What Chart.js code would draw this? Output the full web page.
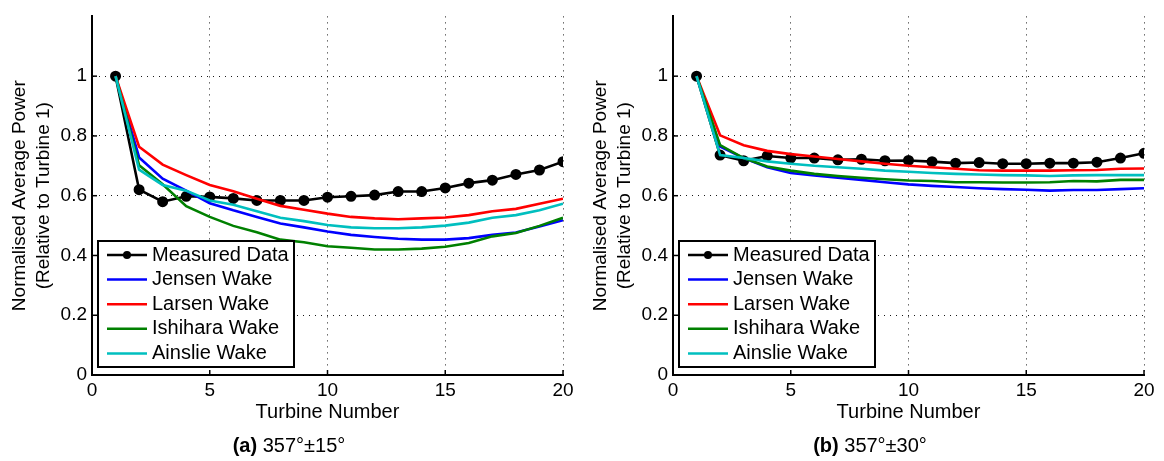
<!DOCTYPE html>
<html>
<head>
<meta charset="utf-8">
<script src="https://cdn.jsdelivr.net/npm/chart.js@4.4.1/dist/chart.umd.min.js"></script>
<style>
    body { margin: 0; width: 1164px; height: 461px; background: #fff; position: relative; overflow: hidden;
           font-family: "Liberation Sans", Arial, sans-serif; }
    .panel { position: absolute; top: 0; width: 582px; height: 461px; }
    .caption { position: absolute; top: 434px; font-size: 20px; color: #000; transform: translateX(-50%); white-space: nowrap; }
</style>
</head>
<body>
<div class="panel" style="left:0"><canvas id="chartA"></canvas></div>
<div class="panel" style="left:581px"><canvas id="chartB"></canvas></div>
<div class="caption" style="left:289px"><b>(a)</b> 357°±15°</div>
<div class="caption" style="left:870px"><b>(b)</b> 357°±30°</div>

<script>
const turbines = [1, 2, 3, 4, 5, 6, 7, 8, 9, 10, 11, 12, 13, 14, 15, 16, 17, 18, 19, 20];
const seriesNames = ['Measured Data', 'Jensen Wake', 'Larsen Wake', 'Ishihara Wake', 'Ainslie Wake'];
const yTickLabels = ['0', '0.2', '0.4', '0.6', '0.8', '1'];

// (a) 357° ±15°
const measuredA = [1.0, 0.620, 0.580, 0.598, 0.596, 0.591, 0.584, 0.584, 0.584, 0.595, 0.598, 0.602, 0.614, 0.614, 0.626, 0.642, 0.652, 0.671, 0.686, 0.714];
const jensenA   = [1.0, 0.728, 0.657, 0.617, 0.575, 0.551, 0.529, 0.507, 0.494, 0.480, 0.469, 0.462, 0.456, 0.453, 0.453, 0.458, 0.469, 0.477, 0.497, 0.518];
const larsenA   = [1.0, 0.764, 0.704, 0.669, 0.636, 0.615, 0.590, 0.566, 0.553, 0.540, 0.529, 0.524, 0.521, 0.524, 0.527, 0.535, 0.548, 0.556, 0.573, 0.590];
const ishiharaA = [1.0, 0.702, 0.638, 0.565, 0.529, 0.499, 0.478, 0.453, 0.444, 0.431, 0.426, 0.420, 0.420, 0.423, 0.429, 0.442, 0.464, 0.475, 0.499, 0.526];
const ainslieA  = [1.0, 0.687, 0.636, 0.617, 0.584, 0.570, 0.548, 0.526, 0.515, 0.502, 0.494, 0.491, 0.491, 0.494, 0.500, 0.510, 0.526, 0.535, 0.551, 0.573];

// (b) 357° ±30°
const measuredB = [1.0, 0.736, 0.717, 0.733, 0.726, 0.726, 0.720, 0.722, 0.717, 0.718, 0.714, 0.709, 0.711, 0.707, 0.707, 0.709, 0.709, 0.712, 0.726, 0.742];
const jensenB   = [1.0, 0.764, 0.726, 0.695, 0.676, 0.668, 0.660, 0.653, 0.645, 0.638, 0.633, 0.629, 0.625, 0.622, 0.620, 0.617, 0.619, 0.619, 0.622, 0.625];
const larsenB   = [1.0, 0.802, 0.769, 0.750, 0.739, 0.731, 0.723, 0.715, 0.707, 0.700, 0.695, 0.690, 0.685, 0.684, 0.684, 0.684, 0.685, 0.686, 0.690, 0.691];
const ishiharaB = [1.0, 0.769, 0.726, 0.698, 0.684, 0.673, 0.666, 0.660, 0.655, 0.651, 0.649, 0.645, 0.645, 0.644, 0.644, 0.645, 0.649, 0.648, 0.653, 0.653];
const ainslieB  = [1.0, 0.736, 0.726, 0.715, 0.707, 0.700, 0.695, 0.690, 0.684, 0.680, 0.676, 0.673, 0.671, 0.669, 0.668, 0.666, 0.668, 0.669, 0.669, 0.669];

const FONT = '"Liberation Sans", Arial, sans-serif';
Chart.defaults.font.family = FONT;
Chart.defaults.color = '#000';

const colors = ['#000000', '#0000ff', '#ff0000', '#008000', '#00bfbf'];

// inward tick marks + boxed legend inside the plot area
const matlabExtras = {
    id: 'matlabExtras',
    afterDraw(chart) {
        const ctx = chart.ctx;
        const xs = chart.scales.x, ys = chart.scales.y;
        ctx.save();
        ctx.strokeStyle = '#000';
        ctx.lineWidth = 1.5;
        xs.ticks.forEach(t => {
            if (t.value <= 0) return;
            const px = xs.getPixelForValue(t.value);
            ctx.beginPath(); ctx.moveTo(px, xs.top); ctx.lineTo(px, xs.top - 5); ctx.stroke();
        });
        ys.ticks.forEach(t => {
            if (t.value <= 0 || t.value > 1.1) return;
            const py = ys.getPixelForValue(t.value);
            ctx.beginPath(); ctx.moveTo(ys.right, py); ctx.lineTo(ys.right + 5, py); ctx.stroke();
        });

        const area = chart.chartArea;
        const bx = area.left + 6, by = area.bottom - 134, bw = 196, bh = 126;
        ctx.fillStyle = '#fff';
        ctx.fillRect(bx, by, bw, bh);
        ctx.lineWidth = 2;
        ctx.strokeStyle = '#000';
        ctx.strokeRect(bx, by, bw, bh);
        ctx.font = '20px ' + FONT;
        ctx.textBaseline = 'middle';
        ctx.textAlign = 'left';
        chart.data.datasets.forEach((ds, i) => {
            const cy = by + 14 + i * 24.6;
            ctx.strokeStyle = ds.borderColor;
            ctx.lineWidth = 2.5;
            ctx.beginPath(); ctx.moveTo(bx + 9, cy); ctx.lineTo(bx + 49, cy); ctx.stroke();
            if (ds.pointRadius > 0) {
                ctx.fillStyle = ds.borderColor;
                ctx.beginPath(); ctx.arc(bx + 29, cy, 4, 0, Math.PI * 2); ctx.fill();
            }
            ctx.fillStyle = '#000';
            ctx.fillText(ds.label, bx + 54, cy);
        });
        ctx.restore();
    }
};

function makeChart(id, seriesList) {
    const datasets = seriesList.map((vals, i) => ({
        label: seriesNames[i],
        data: turbines.map((t, j) => ({ x: t, y: vals[j] })),
        borderColor: colors[i],
        backgroundColor: colors[i],
        borderWidth: 2.6,
        pointRadius: i === 0 ? 4.2 : 0,
        pointHoverRadius: i === 0 ? 4.2 : 0,
        tension: 0,
        order: seriesList.length - i,
    }));

    const gridColor = ctx => (ctx.tick && (ctx.tick.value <= 0 || ctx.tick.value > 1.1 && ctx.scale.axis === 'y'))
        ? 'rgba(0,0,0,0)' : 'rgba(0,0,0,0.9)';

    return new Chart(document.getElementById(id), {
        type: 'line',
        data: { datasets },
        plugins: [matlabExtras],
        options: {
            responsive: true,
            maintainAspectRatio: false,
            animation: false,
            layout: { padding: { top: 9, right: 19, left: 0, bottom: 0 } },
            plugins: {
                legend: { display: false },
                tooltip: { enabled: false },
            },
            scales: {
                x: {
                    type: 'linear',
                    min: 0,
                    max: 20,
                    afterFit: s => { s.height = 86; },
                    ticks: { stepSize: 5, font: { size: 19 }, padding: 4, color: '#000' },
                    grid: { color: gridColor, lineWidth: 1, drawTicks: false },
                    border: { display: true, color: '#000', width: 2, dash: [1, 5] },
                    title: { display: true, text: 'Turbine Number', font: { size: 20 }, color: '#000',
                             padding: { top: 0, bottom: 37 } },
                },
                y: {
                    type: 'linear',
                    min: 0,
                    max: 1.2,
                    afterFit: s => { s.width = 92; },
                    ticks: {
                        stepSize: 0.2,
                        font: { size: 19 },
                        padding: 5,
                        color: '#000',
                        callback: (v, idx) => yTickLabels[idx] !== undefined ? yTickLabels[idx] : '',
                    },
                    grid: { color: gridColor, lineWidth: 1, drawTicks: false },
                    border: { display: true, color: '#000', width: 2, dash: [1, 5] },
                    title: { display: true, text: ['Normalised Average Power', '(Relative to Turbine 1)'],
                             font: { size: 19, lineHeight: 1.25 }, color: '#000', padding: { top: 8, bottom: 0 } },
                },
            },
        },
    });
}

makeChart('chartA', [measuredA, jensenA, larsenA, ishiharaA, ainslieA]);
makeChart('chartB', [measuredB, jensenB, larsenB, ishiharaB, ainslieB]);
</script>
</body>
</html>
